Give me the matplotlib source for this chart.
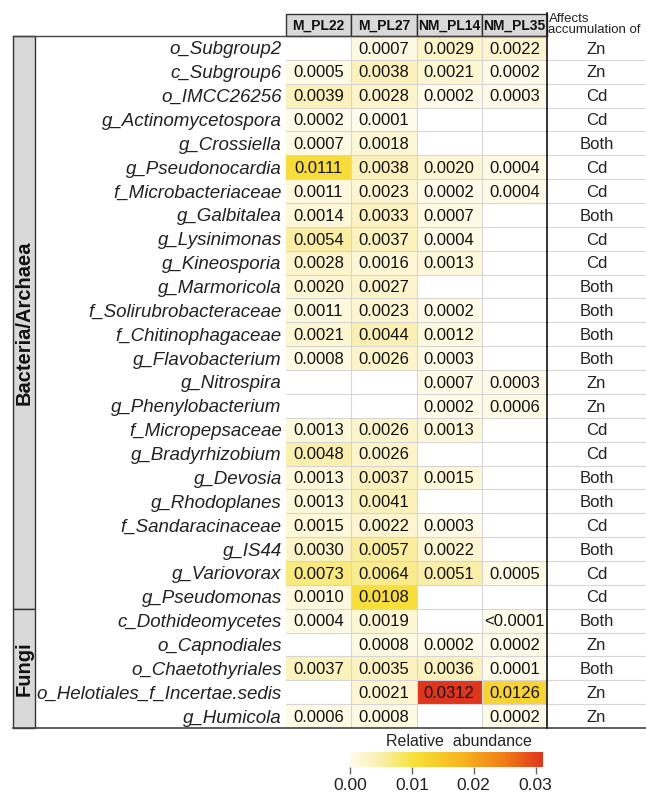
import numpy as np
import matplotlib
matplotlib.use("Agg")
import matplotlib.pyplot as plt
from matplotlib.colors import LinearSegmentedColormap
from matplotlib.patches import Rectangle
from matplotlib.lines import Line2D

plt.rcParams["font.family"] = ["Liberation Sans", "DejaVu Sans"]

nan = np.nan

samples = ["M_PL22", "M_PL27", "NM_PL14", "NM_PL35"]

taxa = [
    "o_Subgroup2", "c_Subgroup6", "o_IMCC26256", "g_Actinomycetospora",
    "g_Crossiella", "g_Pseudonocardia", "f_Microbacteriaceae", "g_Galbitalea",
    "g_Lysinimonas", "g_Kineosporia", "g_Marmoricola", "f_Solirubrobacteraceae",
    "f_Chitinophagaceae", "g_Flavobacterium", "g_Nitrospira", "g_Phenylobacterium",
    "f_Micropepsaceae", "g_Bradyrhizobium", "g_Devosia", "g_Rhodoplanes",
    "f_Sandaracinaceae", "g_IS44", "g_Variovorax", "g_Pseudomonas",
    "c_Dothideomycetes", "o_Capnodiales", "o_Chaetothyriales",
    "o_Helotiales_f_Incertae.sedis", "g_Humicola",
]

m_pl22 = [nan, 0.0005, 0.0039, 0.0002, 0.0007, 0.0111, 0.0011, 0.0014, 0.0054, 0.0028,
          0.0020, 0.0011, 0.0021, 0.0008, nan, nan, 0.0013, 0.0048, 0.0013, 0.0013,
          0.0015, 0.0030, 0.0073, 0.0010, 0.0004, nan, 0.0037, nan, 0.0006]
m_pl27 = [0.0007, 0.0038, 0.0028, 0.0001, 0.0018, 0.0038, 0.0023, 0.0033, 0.0037, 0.0016,
          0.0027, 0.0023, 0.0044, 0.0026, nan, nan, 0.0026, 0.0026, 0.0037, 0.0041,
          0.0022, 0.0057, 0.0064, 0.0108, 0.0019, 0.0008, 0.0035, 0.0021, 0.0008]
nm_pl14 = [0.0029, 0.0021, 0.0002, nan, nan, 0.0020, 0.0002, 0.0007, 0.0004, 0.0013,
           nan, 0.0002, 0.0012, 0.0003, 0.0007, 0.0002, 0.0013, nan, 0.0015, nan,
           0.0003, 0.0022, 0.0051, nan, nan, 0.0002, 0.0036, 0.0312, nan]
nm_pl35 = [0.0022, 0.0002, 0.0003, nan, nan, 0.0004, 0.0004, nan, nan, nan,
           nan, nan, nan, nan, 0.0003, 0.0006, nan, nan, nan, nan,
           nan, nan, 0.0005, nan, 0.00005, 0.0002, 0.0001, 0.0126, 0.0002]

affects = ["Zn", "Zn", "Cd", "Cd", "Both", "Cd", "Cd", "Both", "Cd", "Cd",
           "Both", "Both", "Both", "Both", "Zn", "Zn", "Cd", "Cd", "Both", "Both",
           "Cd", "Both", "Cd", "Cd", "Both", "Zn", "Both", "Zn", "Zn"]

groups = ["Bacteria/Archaea", "Fungi"]
group_sizes = [24, 5]

cbar_ticks = [0.00, 0.01, 0.02, 0.03]

# ---- layout (pixels in a 646x792 figure)
W, H = 646, 792
def fig_box(x0, y0, x1, y1):
    return [x0 / W, 1 - y1 / H, (x1 - x0) / W, (y1 - y0) / H]

TOP, BOTTOM = 36, 728
HM_L, HM_R = 286, 547
AFF_R = 646
STRIP_L, STRIP_R = 13, 35

vals = np.array([m_pl22, m_pl27, nm_pl14, nm_pl35]).T
n_rows, n_cols = vals.shape
vmax = np.nanmax(vals)

cmap = LinearSegmentedColormap.from_list(
    "abund",
    [(0.0, "#fffbea"), (0.15, "#fbefb0"), (0.33, "#f8e13a"),
     (0.58, "#f7b41f"), (0.8, "#ef7c16"), (1.0, "#e0341b")],
)

fig = plt.figure(figsize=(W / 100, H / 100), dpi=100)

# ---- heatmap
ax = fig.add_axes(fig_box(HM_L, TOP, HM_R, BOTTOM))
ax.pcolormesh(np.arange(n_cols + 1), np.arange(n_rows + 1),
              np.ma.masked_invalid(vals), cmap=cmap, vmin=0, vmax=vmax)
ax.set_xlim(0, n_cols)
ax.set_ylim(n_rows, 0)
for spine in ax.spines.values():
    spine.set_visible(False)
for k in range(1, n_rows):
    ax.axhline(k, color="#d6d6d6", lw=0.8)
for k in range(1, n_cols):
    ax.axvline(k, color="#d6d6d6", lw=0.8)

for i in range(n_rows):
    for j in range(n_cols):
        v = vals[i, j]
        if np.isnan(v):
            continue
        s = "<0.0001" if v < 0.0001 else f"{v:.4f}"
        ax.text(j + 0.5, i + 0.55, s, ha="center", va="center",
                fontsize=12, color="#111111")

ax.set_xticks([])
ax.set_yticks(np.arange(n_rows) + 0.5)
ax.set_yticklabels(taxa, fontsize=13.5, fontstyle="italic", color="#222222")
ax.tick_params(axis="y", length=0, pad=3)

# column headers
for j, name in enumerate(samples):
    ax.add_patch(Rectangle((j, -0.93), 1, 0.93, facecolor="#d9d9d9",
                           edgecolor="#333333", lw=1, clip_on=False))
    ax.text(j + 0.5, -0.42, name, ha="center", va="center",
            fontsize=10, fontweight="bold", color="#111111")

# ---- "Affects accumulation of" column
ax_aff = fig.add_axes(fig_box(HM_R, TOP, AFF_R, BOTTOM))
ax_aff.set_xlim(0, 1)
ax_aff.set_ylim(n_rows, 0)
ax_aff.axis("off")
for k in range(1, n_rows + 1):
    ax_aff.axhline(k, color="#d6d6d6", lw=0.8)
for i, a in enumerate(affects):
    ax_aff.text(0.5, i + 0.55, a, ha="center", va="center",
                fontsize=12, color="#222222")
ax_aff.text(0.015, -0.02, "Affects\naccumulation of", ha="left", va="bottom",
            fontsize=9.5, linespacing=0.8, color="#222222")

# ---- group strips
ax_s = fig.add_axes(fig_box(STRIP_L, TOP, STRIP_R, BOTTOM))
ax_s.set_xlim(0, 1)
ax_s.set_ylim(n_rows, 0)
ax_s.axis("off")
start = 0
for g, n in zip(groups, group_sizes):
    ax_s.add_patch(Rectangle((0, start), 1, n, facecolor="#d9d9d9",
                             edgecolor="#333333", lw=1, clip_on=False))
    ax_s.text(0.5, start + n / 2, g, rotation=90, ha="center", va="center",
              fontsize=14.5, fontweight="bold", color="#111111")
    start += n

# frame lines
fig.add_artist(Line2D([STRIP_L / W, HM_R / W], [1 - TOP / H, 1 - TOP / H],
                      color="#444444", lw=1))
fig.add_artist(Line2D([STRIP_L / W, 1], [1 - BOTTOM / H, 1 - BOTTOM / H],
                      color="#444444", lw=1.2))
fig.add_artist(Line2D([HM_R / W, HM_R / W], [1 - 13 / H, 1 - BOTTOM / H],
                      color="#111111", lw=1.2))

# ---- colorbar
cax = fig.add_axes(fig_box(350, 752, 543, 767))
grad = np.linspace(0, vmax, 256)
cax.pcolormesh(grad, [0, 1], grad[np.newaxis, :-1], cmap=cmap, vmin=0, vmax=vmax)
cax.set_xlim(0, vmax)
cax.set_yticks([])
for spine in cax.spines.values():
    spine.set_visible(False)
cax.set_xticks(cbar_ticks)
cax.set_xticklabels([f"{t:.2f}" for t in cbar_ticks], fontsize=12.5, color="#222222")
cax.tick_params(axis="x", length=5, width=1, color="#666666", pad=3)
cax.text(0.565, 1.2, "Relative  abundance", transform=cax.transAxes,
         ha="center", va="bottom", fontsize=11.5, color="#222222")

fig.savefig("out.png", dpi=100)
